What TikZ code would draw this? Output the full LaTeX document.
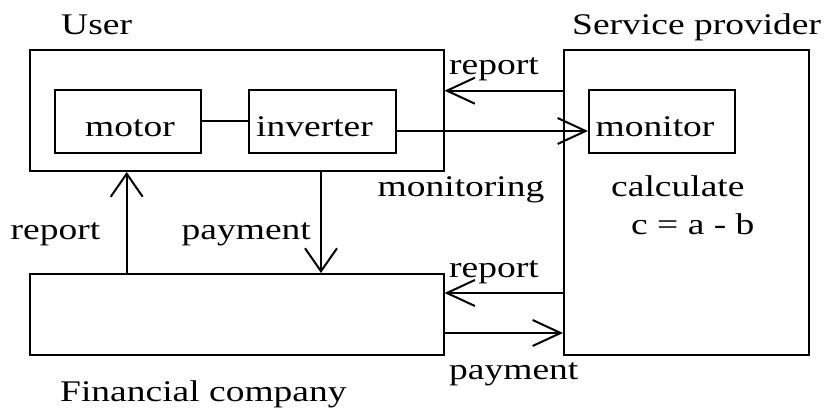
\documentclass[tikz,border=0pt]{standalone}
\usepackage{fontspec}
\setmainfont{Liberation Serif}[FakeStretch=1.25]
\usetikzlibrary{arrows.meta}
\begin{document}
\begin{tikzpicture}[x=1pt,y=-1pt,
  box/.style={draw,line width=2pt,rectangle,inner sep=0pt},
  lbl/.style={anchor=base west,inner sep=0pt,font=\fontsize{30}{36}\selectfont},
  conn/.style={line width=2pt},
  harr/.style={conn,-{Straight Barb[length=28pt,width=26pt]}},
  varr/.style={conn,-{Straight Barb[length=23pt,width=32pt]}}]
\useasboundingbox[fill=white] (0,0) rectangle (827,411);

% blocks
\node[box,minimum width=414pt,minimum height=121pt] (user) at (236.5,110.5) {};
\node[box,minimum width=146pt,minimum height=63pt] (motor) at (128.2,121.3) {};
\node[box,minimum width=147pt,minimum height=63pt] (inverter) at (322.5,121.3) {};
\node[box,minimum width=245pt,minimum height=305pt] (sp) at (686.5,202.5) {};
\node[box,minimum width=146pt,minimum height=63pt] (monitor) at (662,121.3) {};
\node[box,minimum width=414pt,minimum height=81pt] (fin) at (236.5,314.5) {};

% levels of the connectors
\coordinate (yrepA) at (0,90.7);
\coordinate (ymon) at (0,131);
\coordinate (yrepB) at (0,293);
\coordinate (ypayB) at (0,333);
\coordinate (xrepL) at (126.7,0);
\coordinate (xpayM) at (321,0);

% connectors
\draw[conn] (motor.east) -- (inverter.west);
\draw[harr] (sp.west |- yrepA) -- (user.east |- yrepA);
\draw[harr] (inverter.east |- ymon) -- (monitor.west |- ymon);
\draw[varr] (fin.north -| xrepL) -- (user.south -| xrepL);
\draw[varr] (user.south -| xpayM) -- (fin.north -| xpayM);
\draw[harr] (sp.west |- yrepB) -- (fin.east |- yrepB);
\draw[harr] (fin.east |- ypayB) -- (sp.west |- ypayB);

% labels
\node[lbl] (tUser) at (61,35) {User};
\node[lbl] (tSP) at (572,35) {Service provider};
\node[lbl] (tFin) at (60,401) {Financial company};
\node[lbl] (tMotor) at (85,136.7) {motor};
\node[lbl] (tInv) at (256,136.7) {inverter};
\node[lbl] (tMon) at (595.5,136.7) {monitor};
\node[lbl] (tRepA) at (449,75) {report};
\node[lbl] (tMoni) at (377.5,197) {monitoring};
\node[lbl] (tCalc) at (611,197) {calculate};
\node[lbl] (tEq) at (631,235) {c = a - b};
\node[lbl] (tRepL) at (10.5,240) {report};
\node[lbl] (tPayM) at (181.5,240) {payment};
\node[lbl] (tRepB) at (449,278) {report};
\node[lbl] (tPayB) at (449,380) {payment};
\end{tikzpicture}
\end{document}
